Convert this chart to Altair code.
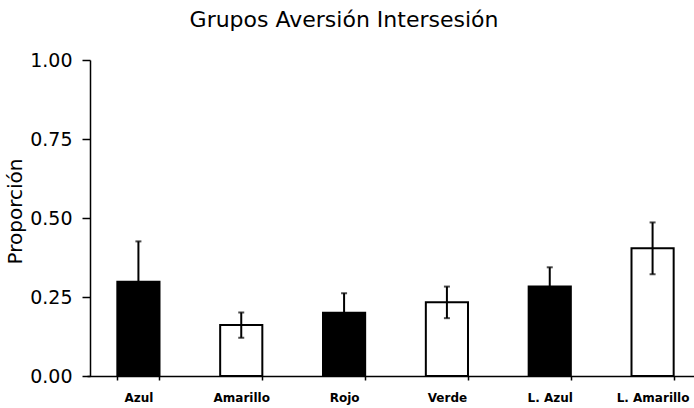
import altair as alt
import pandas as pd

# Proporción media por grupo con su error estándar
grupos = ["Azul", "Amarillo", "Rojo", "Verde", "L. Azul", "L. Amarillo"]
proporcion = [0.298, 0.161, 0.200, 0.233, 0.283, 0.404]
error = [0.128, 0.040, 0.062, 0.050, 0.061, 0.082]
tono = ["Oscuro", "Claro", "Oscuro", "Claro", "Oscuro", "Claro"]

df = pd.DataFrame({
    "grupo": grupos,
    "proporcion": proporcion,
    "error": error,
    "tono": tono,
})
df["inf"] = df["proporcion"] - df["error"]
df["sup"] = df["proporcion"] + df["error"]

FONT = "DejaVu Sans"

x = alt.X(
    "grupo:N",
    sort=grupos,
    title=None,
    scale=alt.Scale(range=[-3, 614], paddingInner=0.59, paddingOuter=0.295),
    axis=alt.Axis(
        labelAngle=0, labelFont=FONT, labelFontSize=12, labelFontWeight="bold",
        labelColor="black", labelPadding=12, tickBand="extent", tickSize=4,
        tickColor="black", domainColor="black", domainWidth=1.5, tickWidth=1.5,
    ),
)

y_scale = alt.Scale(domain=[0, 1], nice=False)

barras = alt.Chart(df).mark_bar(stroke="black", strokeWidth=2).encode(
    x=x,
    y=alt.Y(
        "proporcion:Q",
        scale=y_scale,
        title="Proporción",
        axis=alt.Axis(
            values=[0, 0.25, 0.5, 0.75, 1.0], format=".2f", grid=False,
            labelFont=FONT, labelFontSize=19, labelColor="black",
            labelPadding=10, tickSize=8, tickColor="black", tickWidth=1.5,
            domainColor="black", domainWidth=1.5,
            titleFont=FONT, titleFontSize=20, titleFontWeight="normal",
            titleColor="black", titleX=-75, titleY=151, titleAngle=270,
            titleAlign="center", titleBaseline="middle",
        ),
    ),
    fill=alt.Fill(
        "tono:N",
        scale=alt.Scale(domain=["Oscuro", "Claro"], range=["black", "white"]),
        legend=None,
    ),
)

barra_error = alt.Chart(df).mark_rule(color="black", strokeWidth=2).encode(
    x=alt.X("grupo:N", sort=grupos),
    y=alt.Y("inf:Q", scale=y_scale),
    y2="sup:Q",
)

tope_sup = alt.Chart(df).mark_tick(color="black", thickness=2, size=6).encode(
    x=alt.X("grupo:N", sort=grupos),
    y=alt.Y("sup:Q", scale=y_scale),
)

tope_inf = alt.Chart(df).mark_tick(color="black", thickness=2, size=6).encode(
    x=alt.X("grupo:N", sort=grupos),
    y=alt.Y("inf:Q", scale=y_scale),
)

chart = (
    alt.layer(barras, barra_error, tope_sup, tope_inf)
    .properties(
        width=604,
        height=316,
        title=alt.TitleParams(
            "Grupos Aversión Intersesión",
            font=FONT, fontSize=22, fontWeight="normal", color="black",
            anchor="middle", dx=-48, offset=19,
        ),
        autosize=alt.AutoSizeParams(type="none"),
        padding={"left": 90, "top": 60, "right": 0, "bottom": 32},
        background="white",
    )
    .configure_view(stroke=None)
)

chart.save("out.html", embed_options={"renderer": "svg", "actions": False})
